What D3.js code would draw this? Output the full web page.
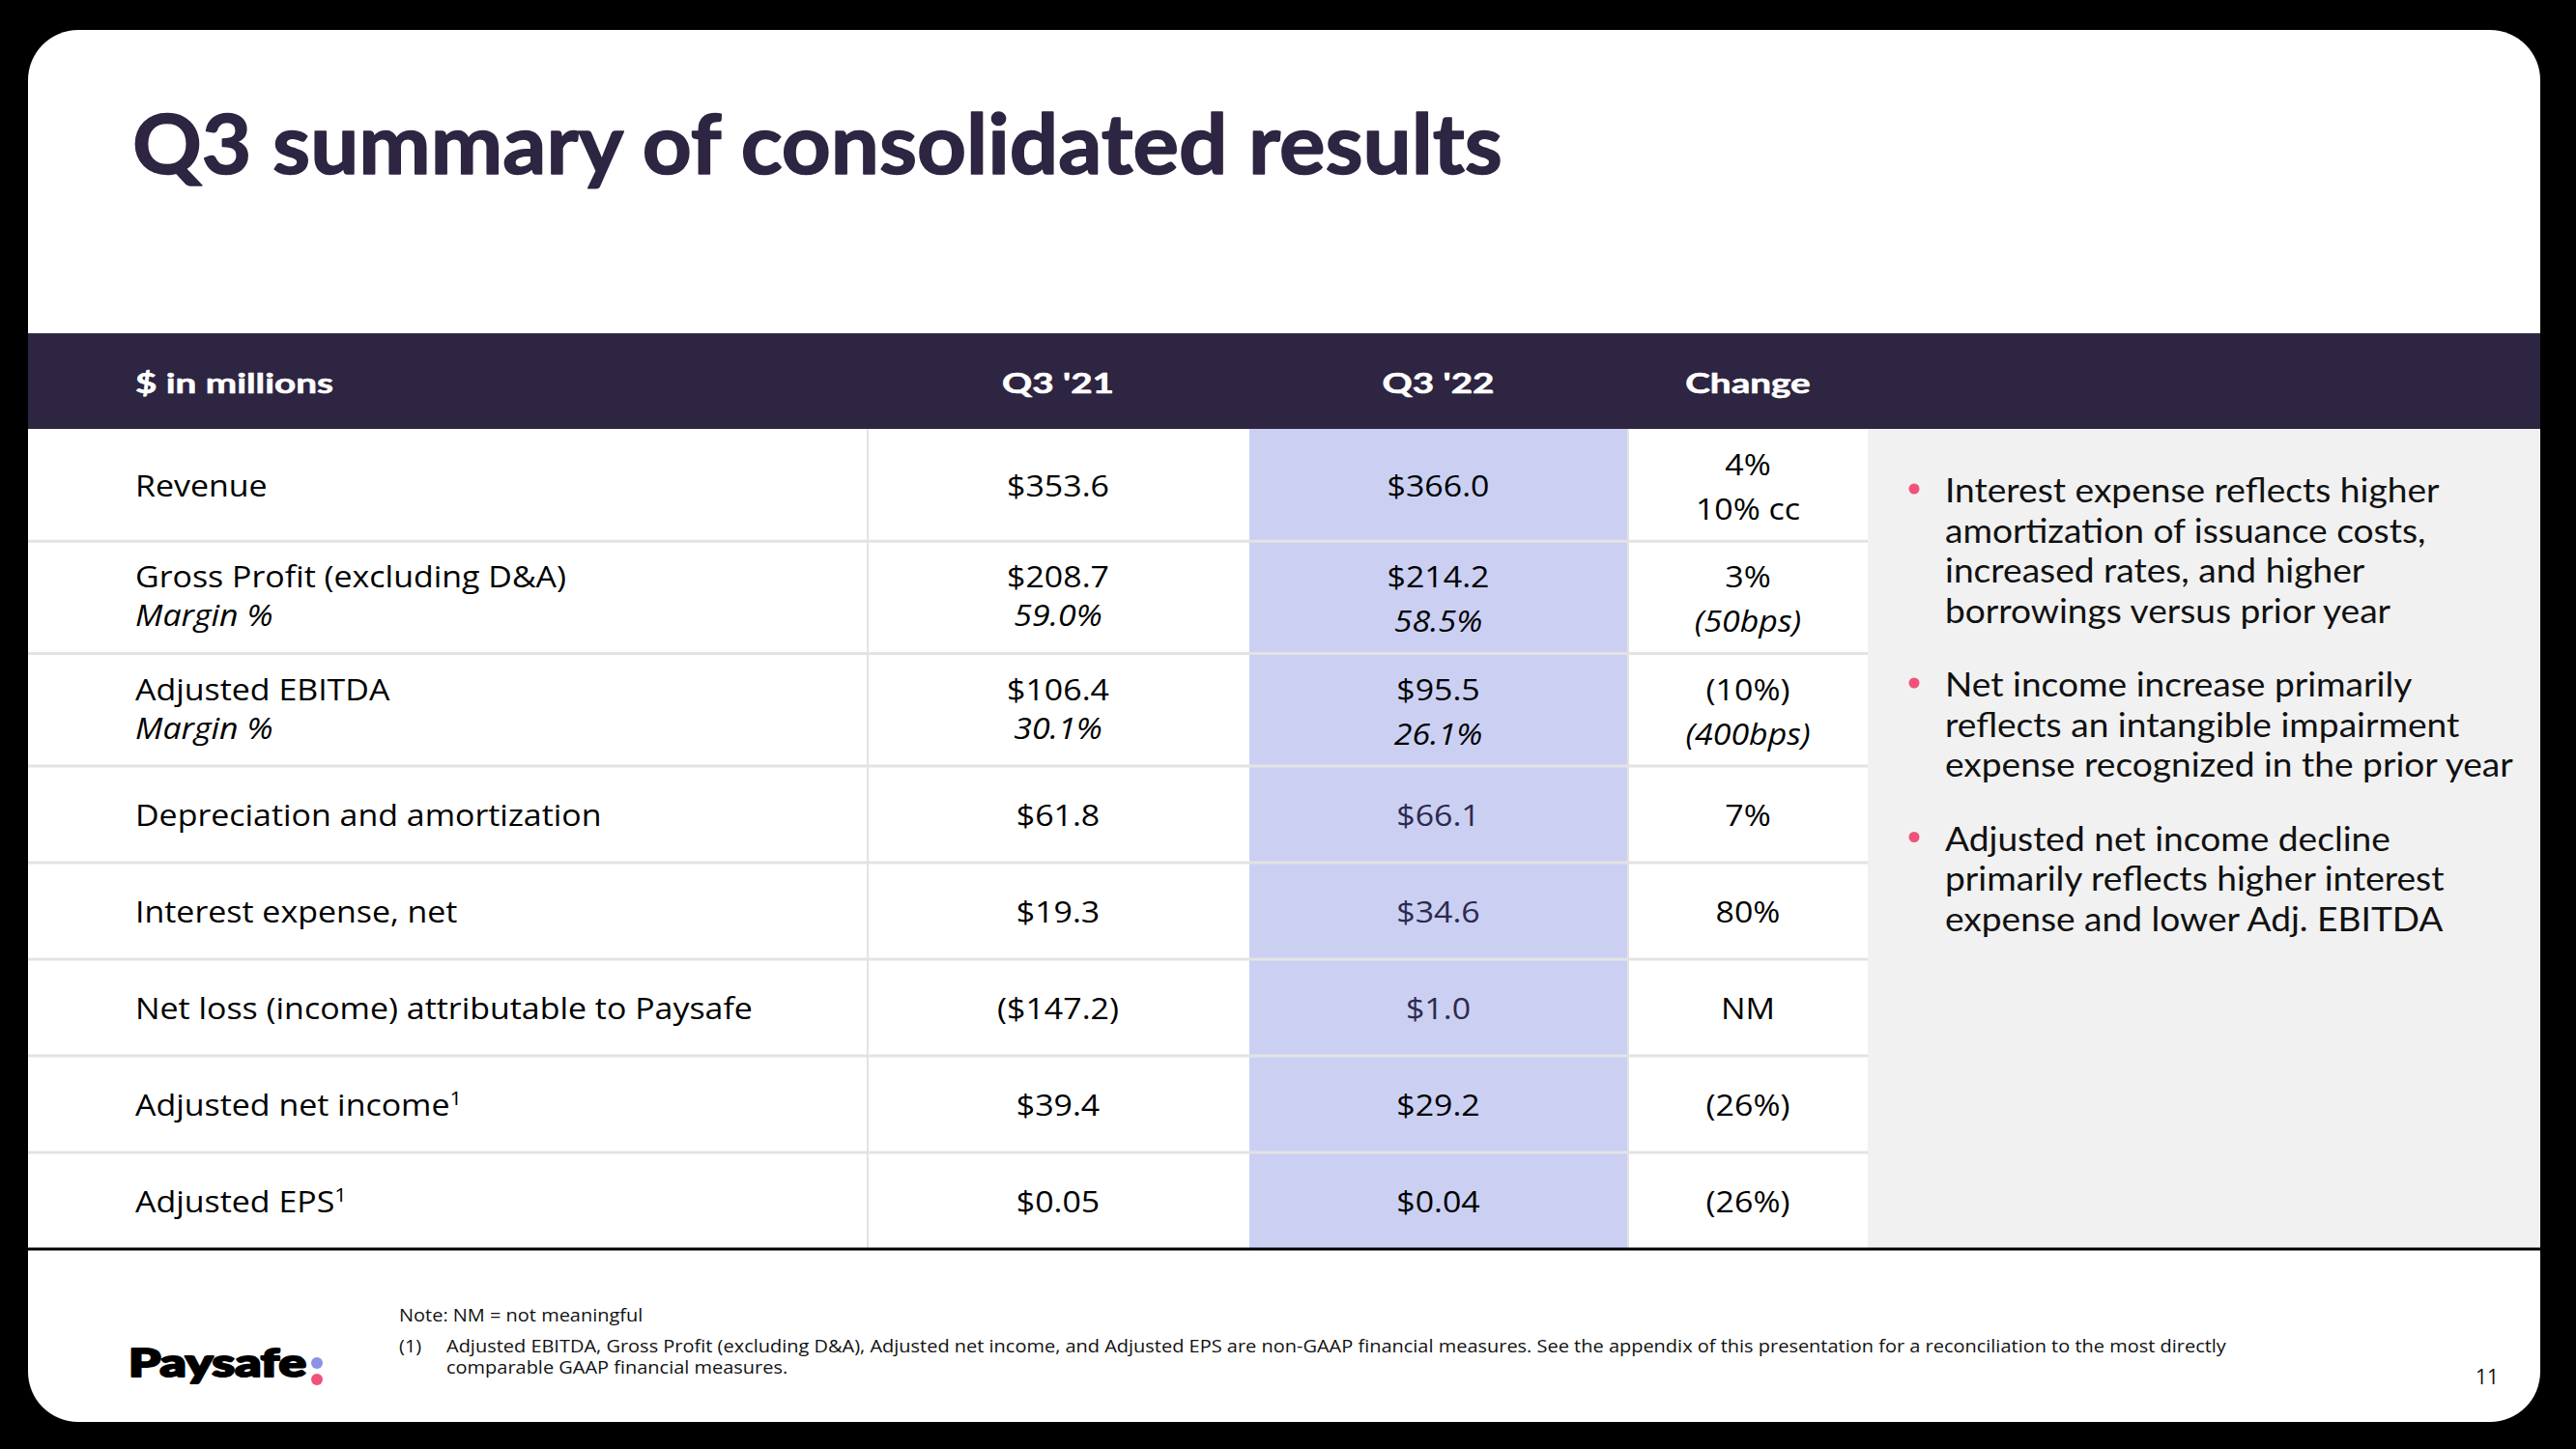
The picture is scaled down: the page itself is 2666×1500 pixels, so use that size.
<!DOCTYPE html>
<html><head><meta charset="utf-8">
<script src="https://cdn.jsdelivr.net/npm/d3@7"></script>
<style>html,body{margin:0;padding:0;background:#000;overflow:hidden}svg{display:block}</style>
</head><body>
<svg id="c" width="2666" height="1500"></svg>
<script>
// ---------------- DATA ----------------
const title = "Q3 summary of consolidated results";
const columnKeys = ["label", "q321", "q322", "change"];
const columnHeaders = ["$ in millions", "Q3 '21", "Q3 '22", "Change"];
const categories = ["Revenue", "Gross Profit (excluding D&A)", "Adjusted EBITDA", "Depreciation and amortization",
  "Interest expense, net", "Net loss (income) attributable to Paysafe", "Adjusted net income", "Adjusted EPS"];
const categoryMarks = ["", "", "", "", "", "", "1", "1"];
const subLabels = ["", "Margin %", "Margin %", "", "", "", "", ""];
const q321 = ["$353.6", "$208.7", "$106.4", "$61.8", "$19.3", "($147.2)", "$39.4", "$0.05"];
const q321Sub = ["", "59.0%", "30.1%", "", "", "", "", ""];
const q322 = ["$366.0", "$214.2", "$95.5", "$66.1", "$34.6", "$1.0", "$29.2", "$0.04"];
const q322Sub = ["", "58.5%", "26.1%", "", "", "", "", ""];
const change = ["4%", "3%", "(10%)", "7%", "80%", "NM", "(26%)", "(26%)"];
const changeSub = ["10% cc", "(50bps)", "(400bps)", "", "", "", "", ""];
const bullets = [
  ["Interest expense reflects higher", "amortization of issuance costs,", "increased rates, and higher", "borrowings versus prior year"],
  ["Net income increase primarily", "reflects an intangible impairment", "expense recognized in the prior year"],
  ["Adjusted net income decline", "primarily reflects higher interest", "expense and lower Adj. EBITDA"]
];
const noteLine = "Note: NM = not meaningful";
const footnoteMarker = "(1)";
const footnoteLines = ["Adjusted EBITDA, Gross Profit (excluding D&A), Adjusted net income, and Adjusted EPS are non-GAAP financial measures.  See the appendix of this presentation for a reconciliation to the most directly",
  "comparable GAAP financial measures."];
const logoText = "Paysafe";
const pageNumber = "11";

// ---------------- STYLE / LAYOUT ----------------
const W = 2666, H = 1500;
const DARK = "#2d2541", LAV = "#cbd0f3", GREY = "#f1f1f1", LINE = "#e3e3e3", PINK = "#f0527a", BLUE = "#8c92e6";
const BODY = "'Open Sans', 'Noto Sans', sans-serif";
const HEAD = "Lato, 'Open Sans', sans-serif";
const panel = {x: 29, y: 31, w: 2600, h: 1441, r: 52};
const tableTop = 444, tableRight = 1933;
const colEdges = [29, 898, 1292, 1685, 1933];
const purpleQ322Rows = new Set([3, 4, 5]);

const svg = d3.select("#c");
svg.append("rect").attr("width", W).attr("height", H).attr("fill", "#000");
svg.append("rect").attr("x", panel.x).attr("y", panel.y).attr("width", panel.w).attr("height", panel.h)
  .attr("rx", panel.r).attr("fill", "#fff");

function measure(str, family, size, weight, italic) {
  const t = svg.append("text").style("font-family", family).style("font-size", size + "px")
    .style("font-weight", weight || 400).style("font-style", italic ? "italic" : "normal").text(str);
  const w = t.node().getComputedTextLength();
  t.remove();
  return w;
}
function txt(g, x, y, str, o) {
  const t = g.append("text")
    .attr("transform", `translate(${x},${y}) scale(${o.sx || 1},1)`)
    .attr("text-anchor", o.anchor || "start")
    .style("font-family", o.family).style("font-size", o.size + "px")
    .style("font-weight", o.weight || 400).style("font-style", o.italic ? "italic" : "normal")
    .attr("fill", o.fill || "#000").text(str);
  if (o.stroke) t.attr("stroke", o.fill || "#000").attr("stroke-width", o.stroke).attr("stroke-linejoin", "round");
  return t;
}

// ---- scales ----
const x = d3.scaleOrdinal().domain(columnKeys).range(colEdges.slice(0, 4));
const colW = d3.scaleOrdinal().domain(columnKeys).range(d3.pairs(colEdges).map(p => p[1] - p[0]));
const rowH = categories.map((c, i) => (subLabels[i] || q321Sub[i] || q322Sub[i] || changeSub[i]) ? 116.3 : 100);
const rowTops = [tableTop, ...Array.from(d3.cumsum(rowH), v => tableTop + v)];
const y = d3.scaleOrdinal().domain(d3.range(categories.length)).range(rowTops.slice(0, -1));
const h = d3.scaleOrdinal().domain(d3.range(categories.length)).range(rowH);
const tableBottom = rowTops[rowTops.length - 1];

// ---- title ----
const titleSize = 87;
const titleSx = 1418 / measure(title, HEAD, titleSize, 700);
txt(svg, 137, 180, title, {family: HEAD, size: titleSize, weight: 700, fill: DARK, sx: titleSx, stroke: 1.5});

// ---- header band ----
svg.append("rect").attr("x", panel.x).attr("y", 345).attr("width", panel.w).attr("height", tableTop - 345).attr("fill", DARK);
const headSize = 29;
const headSx = 205 / measure(columnHeaders[0], HEAD, headSize, 700);
columnHeaders.forEach((s, j) => {
  const k = columnKeys[j];
  const cx = j === 0 ? 140 : x(k) + colW(k) / 2;
  txt(svg, cx, 407, s, {family: HEAD, size: headSize, weight: 700, fill: "#fff", sx: headSx, stroke: 0.6, anchor: j === 0 ? "start" : "middle"});
});

// ---- table backgrounds ----
svg.append("rect").attr("x", tableRight).attr("y", tableTop).attr("width", panel.x + panel.w - tableRight)
  .attr("height", tableBottom - tableTop).attr("fill", GREY);
svg.append("rect").attr("x", x("q322") + 1).attr("y", tableTop).attr("width", colW("q322") - 2)
  .attr("height", tableBottom - tableTop).attr("fill", LAV);

// grid lines
const grid = svg.append("g");
grid.selectAll("line.r").data(d3.range(1, categories.length)).join("line")
  .attr("x1", panel.x).attr("x2", tableRight).attr("y1", i => y(i)).attr("y2", i => y(i))
  .attr("stroke", LINE).attr("stroke-width", 3);
grid.selectAll("line.c").data(["q321", "change"]).join("line")
  .attr("x1", k => x(k)).attr("x2", k => x(k)).attr("y1", tableTop).attr("y2", tableBottom)
  .attr("stroke", LINE).attr("stroke-width", 2);
svg.append("line").attr("x1", panel.x).attr("x2", panel.x + panel.w).attr("y1", tableBottom).attr("y2", tableBottom)
  .attr("stroke", "#000").attr("stroke-width", 3);

// ---- cells ----
const bodySize = 31;
const bodySx = 639 / measure(categories[5], BODY, bodySize, 400);
const cols = {
  label: [categories, subLabels, 40],
  q321: [q321, q321Sub, 40],
  q322: [q322, q322Sub, 46],
  change: [change, changeSub, 46]
};
const cells = svg.append("g");
categories.forEach((cat, i) => {
  const c = y(i) + h(i) / 2;
  columnKeys.forEach(k => {
    const [main, sub, gap] = cols[k];
    const anchor = k === "label" ? "start" : "middle";
    const cx = k === "label" ? 140 : x(k) + colW(k) / 2;
    const fill = (k === "q322" && purpleQ322Rows.has(i)) ? "#2e2a4f" : "#000";
    const base = sub[i] ? c - 10 : c + 12;
    const t = txt(cells, cx, base, main[i], {family: BODY, size: bodySize, sx: bodySx, anchor, fill});
    if (k === "label" && categoryMarks[i]) {
      t.append("tspan").attr("dy", -11).style("font-size", "20px").text(categoryMarks[i]);
    }
    if (sub[i]) {
      txt(cells, cx, base + gap, sub[i], {family: BODY, size: bodySize, sx: bodySx, anchor, fill, italic: !!subLabels[i]});
    }
  });
});

// ---- bullets ----
const BUL = "Lato, 'Open Sans', sans-serif";
const bulletSize = 34;
const bulletSx = 588 / measure(bullets[1][2], BUL, bulletSize, 400);
const bg = svg.append("g");
let by = 520;
bullets.forEach(lines => {
  bg.append("circle").attr("cx", 1981).attr("cy", by - 14).attr("r", 5.5).attr("fill", PINK);
  lines.forEach((ln, li) => {
    txt(bg, 2013, by + li * 41.5, ln, {family: BUL, size: bulletSize, sx: bulletSx, fill: "#111"});
  });
  by += lines.length * 41.5 + 35;
});

// ---- footer ----
const footSize = 19;
const footSx = 1843 / measure(footnoteLines[0], BODY, footSize, 400);
txt(svg, 413, 1368, noteLine, {family: BODY, size: footSize, sx: footSx, fill: "#111"});
txt(svg, 413, 1400, footnoteMarker, {family: BODY, size: footSize, sx: footSx, fill: "#111"});
footnoteLines.forEach((ln, li) => txt(svg, 462, 1400 + li * 22, ln, {family: BODY, size: footSize, sx: footSx, fill: "#111"}));
txt(svg, 2586, 1433, pageNumber, {family: BODY, size: 21, fill: "#111", anchor: "end"});

// logo
const logoSize = 40;
const logoSx = 184 / measure(logoText, HEAD, logoSize, 900);
txt(svg, 133, 1425, logoText, {family: HEAD, size: logoSize, weight: 900, fill: "#000", sx: logoSx, stroke: 2.2});
svg.append("circle").attr("cx", 328).attr("cy", 1411).attr("r", 6).attr("fill", BLUE);
svg.append("circle").attr("cx", 328).attr("cy", 1428).attr("r", 6).attr("fill", PINK);
</script>
</body></html>
